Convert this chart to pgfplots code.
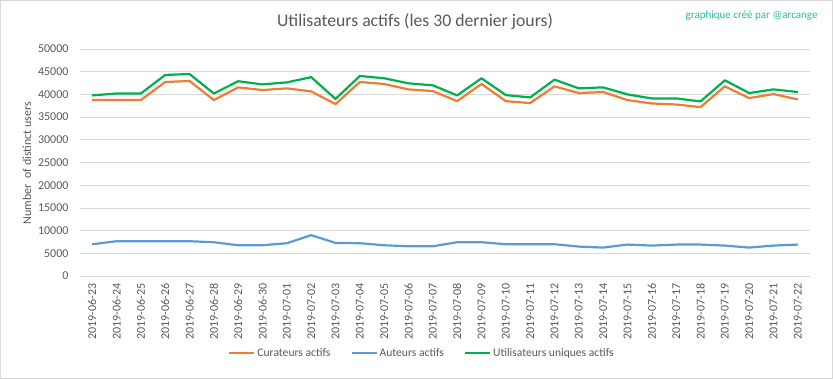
\documentclass[border=0pt]{standalone}
\usepackage{pgfplots}
\pgfplotsset{compat=1.18}
\usepackage{pgfplotstable}
\usepackage{fontspec}
\setmainfont{Carlito}
\definecolor{cur}{HTML}{ED7D31}
\definecolor{aut}{HTML}{5B9BD5}
\definecolor{uti}{HTML}{00B050}
\definecolor{gridc}{HTML}{D9D9D9}
\definecolor{txt}{HTML}{595959}
\definecolor{wm}{HTML}{1FBE9A}
\pgfplotstableread{
idx cur aut uti
0 38750 7000 39780
1 38750 7660 40200
2 38750 7660 40200
3 42730 7660 44280
4 42950 7660 44500
5 38750 7440 40200
6 41550 6770 42900
7 40960 6770 42200
8 41330 7220 42650
9 40660 8990 43800
10 37860 7290 39000
11 42730 7220 44060
12 42290 6770 43550
13 41100 6550 42440
14 40740 6550 42000
15 38520 7440 39780
16 42290 7440 43550
17 38520 7000 39850
18 38080 7000 39330
19 41770 7000 43250
20 40300 6480 41330
21 40520 6260 41550
22 38750 6920 40000
23 38000 6700 39110
24 37780 6920 39110
25 37200 6920 38450
26 41770 6700 43100
27 39190 6260 40300
28 40070 6700 41100
29 38890 6920 40520
}\datatable
\begin{document}
\begin{tikzpicture}[x=1bp,y=1bp]
\useasboundingbox (0,0) rectangle (833,379);
\draw[gridc, line width=0.75bp] (0.5,0.5) rectangle (832.5,378.5);
\node[font=\fontsize{17.7bp}{21bp}\selectfont, text=txt] at (415,357) {Utilisateurs actifs (les 30 dernier jours)};
\node[font=\fontsize{11bp}{13bp}\selectfont, text=wm, anchor=east] at (821,363) {graphique créé par @arcange};
\node[font=\fontsize{12bp}{14bp}\selectfont, text=txt, rotate=90] at (27,216) {Number\ \ of distinct users};
\begin{axis}[
  at={(80bp,103bp)}, anchor=south west,
  scale only axis, width=730bp, height=227bp,
  xmin=-0.5, xmax=29.5, ymin=0, ymax=50000,
  xtick={0,...,29},
  xticklabels={2019-06-23,2019-06-24,2019-06-25,2019-06-26,2019-06-27,2019-06-28,2019-06-29,2019-06-30,2019-07-01,2019-07-02,2019-07-03,2019-07-04,2019-07-05,2019-07-06,2019-07-07,2019-07-08,2019-07-09,2019-07-10,2019-07-11,2019-07-12,2019-07-13,2019-07-14,2019-07-15,2019-07-16,2019-07-17,2019-07-18,2019-07-19,2019-07-20,2019-07-21,2019-07-22},
  ytick={0,5000,...,50000},
  axis x line*=bottom, axis y line*=left,
  x axis line style={gridc, line width=0.75bp, -},
  y axis line style={draw=none},
  major tick length=0,
  ymajorgrids, grid style={gridc, line width=0.75bp},
  tick label style={font=\fontsize{12bp}{14bp}\selectfont, text=txt},
  xticklabel style={rotate=90, anchor=east},
  xtick style={draw=none}, ytick style={draw=none},
  /pgf/number format/assume math mode=true,
  /pgf/number format/set thousands separator={},
  scaled y ticks=false,
  xticklabel shift=4bp, yticklabel shift=8bp,
  legend columns=3,
  legend style={at={(0.4685,-0.339)}, anchor=center, draw=none, fill=none,
    font=\fontsize{11.6bp}{14bp}\selectfont, text=txt,
    /tikz/every even column/.append style={column sep=18bp}},
  legend image code/.code={\draw[#1] (0bp,0bp) -- (25bp,0bp);},
  legend cell align=left,
]
\addplot[cur, line width=2.2bp, line join=round] table[x=idx, y=cur] {\datatable};
\addlegendentry{Curateurs actifs}
\addplot[aut, line width=2.2bp, line join=round] table[x=idx, y=aut] {\datatable};
\addlegendentry{Auteurs actifs}
\addplot[uti, line width=2.2bp, line join=round] table[x=idx, y=uti] {\datatable};
\addlegendentry{Utilisateurs uniques actifs}
\end{axis}
\end{tikzpicture}
\end{document}
